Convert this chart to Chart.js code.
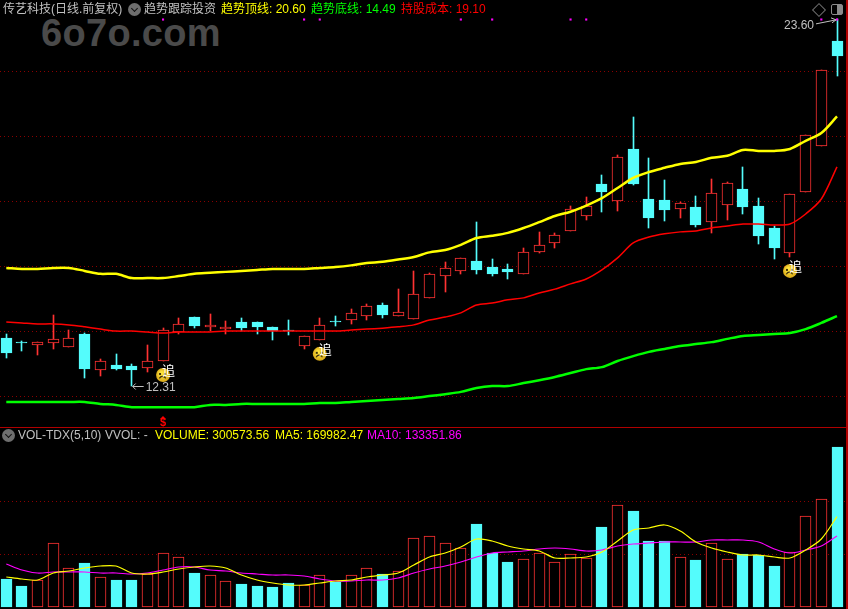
<!DOCTYPE html>
<html>
<head>
<meta charset="utf-8">
<title>传艺科技</title>
<script src="https://cdn.jsdelivr.net/npm/chart.js@4/dist/chart.umd.min.js"></script>
<style>
    html, body { margin: 0; padding: 0; background: #000; overflow: hidden; }
    #page { position: relative; width: 848px; height: 609px; background: #000; overflow: hidden; font-family: "Liberation Sans", "Noto Sans CJK SC", sans-serif; }
    #priceBox { position: absolute; left: 0; top: 0; width: 848px; height: 427px; }
    #volBox { position: absolute; left: 0; top: 428px; width: 848px; height: 181px; }
    canvas { display: block; }
    .label { position: absolute; font-size: 12px; line-height: 14px; white-space: nowrap; }
    .grey { color: #c0c0c0; }
    .yellow { color: #ffff00; }
    .green { color: #00ff00; }
    .red { color: #ff0000; }
    .pink { color: #ff00ff; }
    #logo { position: absolute; left: 41px; top: 11px; font: bold 38px/44px "Liberation Sans", sans-serif; color: #4a4a4a; letter-spacing: 0.3px; }
    .rule { position: absolute; background: #b00000; }
    .round { position: absolute; width: 13px; height: 13px; border-radius: 50%; background: #6e6e6e; }
    .round::after { content: ''; position: absolute; left: 3.5px; top: 3px; width: 4px; height: 4px; border-right: 1.5px solid #111; border-bottom: 1.5px solid #111; transform: rotate(45deg); }
    #diamond { position: absolute; left: 814px; top: 5px; width: 8px; height: 8px; border: 1px solid #707070; transform: rotate(45deg); }
    #panelBtn { position: absolute; left: 831px; top: 4px; width: 10px; height: 9px; border: 1px solid #8a8a8a; border-radius: 2px; }
    #panelBtn::after { content: ''; position: absolute; right: 0; top: 0; width: 5px; height: 9px; background: #8a8a8a; }
</style>
</head>
<body>
<div id="page">
    <div id="logo">6o7o.com</div>
    <div id="priceBox"><canvas id="priceChart" width="848" height="427"></canvas></div>
    <div id="volBox"><canvas id="volChart" width="848" height="181"></canvas></div>

    <div class="rule" style="left:0;top:427px;width:848px;height:1px"></div>
    <div class="rule" style="left:846px;top:0;width:2px;height:609px"></div>

    <div class="label grey" style="left:3px;top:2px">传艺科技(日线.前复权)</div>
    <div class="round" style="left:128px;top:3px"></div>
    <div class="label grey" style="left:144px;top:2px">趋势跟踪投资</div>
    <div class="label yellow" style="left:221px;top:2px">趋势顶线: 20.60</div>
    <div class="label green" style="left:311px;top:2px">趋势底线: 14.49</div>
    <div class="label red" style="left:401px;top:2px">持股成本: 19.10</div>
    <div id="diamond"></div>
    <div id="panelBtn"></div>

    <div class="round" style="left:2px;top:429px"></div>
    <div class="label grey" style="left:18px;top:428px">VOL-TDX(5,10)</div>
    <div class="label grey" style="left:105px;top:428px">VVOL: -</div>
    <div class="label yellow" style="left:155px;top:428px">VOLUME: 300573.56</div>
    <div class="label yellow" style="left:275px;top:428px">MA5: 169982.47</div>
    <div class="label pink" style="left:367px;top:428px">MA10: 133351.86</div>
</div>

<script>
const opens = [13.79, 13.66, 13.57, 13.63, 13.51, 13.91, 12.80, 12.96, 12.93, 12.86, 13.08, 13.97, 14.43, 14.13, 14.06, 14.28, 14.28, 14.13, 14.03, 13.54, 13.73, 14.31, 14.34, 14.46, 14.80, 14.46, 14.37, 15.02, 15.69, 15.85, 16.16, 15.97, 15.91, 15.76, 16.43, 16.71, 17.08, 17.54, 18.52, 18.00, 19.60, 18.06, 18.03, 17.75, 17.82, 17.35, 17.88, 18.37, 17.85, 17.17, 16.40, 18.28, 19.69, 22.92];
const closes = [13.33, 13.63, 13.66, 13.76, 13.79, 12.83, 13.08, 12.83, 12.80, 13.08, 14.03, 14.22, 14.16, 14.19, 14.13, 14.09, 14.13, 14.00, 14.00, 13.85, 14.19, 14.28, 14.56, 14.77, 14.49, 14.59, 15.14, 15.76, 15.94, 16.25, 15.88, 15.76, 15.82, 16.43, 16.65, 16.96, 17.75, 17.85, 18.28, 19.35, 18.52, 17.48, 17.72, 17.94, 17.26, 18.25, 18.55, 17.82, 16.93, 16.55, 18.22, 20.03, 22.03, 22.46];
const highs = [13.91, 13.70, 13.66, 14.49, 14.03, 13.94, 13.14, 13.30, 12.99, 13.57, 14.09, 14.40, 14.43, 14.53, 14.31, 14.40, 14.28, 14.13, 14.34, 13.85, 14.40, 14.46, 14.68, 14.83, 14.86, 15.29, 15.85, 15.79, 16.13, 16.25, 17.35, 16.22, 16.06, 16.55, 17.05, 17.02, 17.85, 18.12, 18.80, 19.42, 20.58, 19.33, 18.65, 17.97, 18.15, 18.68, 18.59, 19.05, 18.09, 17.23, 18.22, 20.03, 22.03, 23.60];
const lows = [13.17, 13.39, 13.26, 13.45, 13.51, 12.56, 12.62, 12.80, 12.31, 12.74, 13.08, 13.91, 14.09, 14.00, 13.91, 14.00, 13.91, 13.73, 13.88, 13.45, 13.73, 14.16, 14.22, 14.34, 14.40, 14.46, 14.37, 15.02, 15.20, 15.76, 15.76, 15.69, 15.60, 15.76, 16.40, 16.55, 17.08, 17.42, 17.66, 17.69, 18.49, 17.17, 17.39, 17.48, 17.20, 17.02, 17.42, 17.60, 16.68, 16.22, 16.28, 18.28, 19.69, 21.85];

const topLine = [15.94, 15.91, 15.91, 15.94, 15.94, 15.85, 15.76, 15.76, 15.63, 15.63, 15.63, 15.69, 15.76, 15.79, 15.82, 15.85, 15.88, 15.91, 15.91, 15.91, 15.94, 15.97, 16.02, 16.09, 16.13, 16.20, 16.28, 16.42, 16.49, 16.65, 16.86, 16.93, 17.02, 17.17, 17.35, 17.54, 17.67, 17.86, 18.09, 18.40, 18.71, 18.89, 19.02, 19.14, 19.20, 19.33, 19.39, 19.57, 19.54, 19.54, 19.60, 19.85, 20.09, 20.60];
const costLine = [14.28, 14.25, 14.22, 14.22, 14.19, 14.13, 14.06, 14.00, 14.00, 13.97, 13.94, 13.97, 13.97, 13.97, 14.00, 14.00, 14.00, 14.00, 14.00, 14.00, 14.00, 14.00, 14.03, 14.06, 14.09, 14.13, 14.19, 14.34, 14.43, 14.56, 14.80, 14.86, 14.96, 15.02, 15.17, 15.29, 15.45, 15.60, 15.88, 16.25, 16.71, 16.89, 16.99, 17.05, 17.08, 17.17, 17.23, 17.29, 17.29, 17.26, 17.29, 17.60, 18.06, 19.05];
const bottomLine = [11.82, 11.82, 11.82, 11.82, 11.82, 11.82, 11.76, 11.73, 11.66, 11.66, 11.66, 11.66, 11.66, 11.73, 11.73, 11.76, 11.76, 11.76, 11.76, 11.76, 11.79, 11.79, 11.82, 11.85, 11.88, 11.91, 11.94, 12.00, 12.06, 12.13, 12.25, 12.31, 12.31, 12.40, 12.49, 12.59, 12.71, 12.83, 12.89, 13.08, 13.23, 13.36, 13.45, 13.54, 13.60, 13.66, 13.76, 13.85, 13.88, 13.91, 13.94, 14.06, 14.25, 14.46];

const volumes = [52600, 39500, 50800, 120300, 73300, 82700, 56400, 50800, 50800, 62000, 101500, 94000, 63900, 60200, 48900, 43200, 39500, 37600, 45100, 41400, 60200, 47000, 60200, 73300, 62000, 67700, 129700, 133500, 120300, 110900, 156000, 101500, 84600, 90200, 101500, 84600, 99600, 92100, 150400, 191800, 180500, 124100, 124100, 94000, 88400, 120300, 90200, 99600, 97800, 77100, 103400, 171100, 203000, 300573.56];
const ma5 = [56400, 52640, 50760, 63920, 67680, 73320, 77080, 77080, 63920, 62040, 65800, 71440, 75200, 77080, 73320, 60160, 50760, 45120, 41360, 41360, 45120, 48880, 50760, 56400, 60160, 63920, 78960, 94000, 101520, 112800, 127840, 124080, 114680, 109040, 105280, 92120, 92120, 94000, 103400, 124080, 144760, 148520, 154160, 142880, 122200, 110920, 103400, 97760, 97760, 94000, 92120, 107160, 127840, 169982.47];
const ma10 = [80840, 69560, 63920, 65800, 65800, 65800, 63920, 63920, 62040, 63920, 69560, 75200, 75200, 69560, 67680, 63920, 62040, 60160, 60160, 58280, 52640, 48880, 48880, 50760, 50760, 54520, 63920, 71440, 77080, 84600, 94000, 101520, 103400, 105280, 109040, 110920, 109040, 105280, 107160, 114680, 118440, 120320, 122200, 122200, 122200, 125960, 125960, 125960, 122200, 109040, 101520, 107160, 114680, 133351.86];

const days = opens.map((_, i) => i);
const priceGrid = [12, 14, 16, 18, 20, 22];
const volGrid = [100000, 200000];

// days flagged by the indicator, magenta dots along the top
const signalDays = [10, 19, 20, 29, 31, 36, 37, 52, 53];
const signalLevel = 23.58;
// "追" smileys: day and price level
const chaseDays = [10, 20, 50];
const chaseLevels = [12.65, 13.30, 15.85];

const UP = '#ff3232';
const DOWN = '#54fcfc';
const isUp = days.map(i => closes[i] >= opens[i]);
const barColors = isUp.map(u => u ? UP : DOWN);
const barFills = isUp.map(u => u ? '#000000' : DOWN);

Chart.defaults.animation = false;
Chart.defaults.events = [];
Chart.defaults.plugins.legend.display = false;
Chart.defaults.plugins.tooltip.enabled = false;

// dotted lines run the full canvas width, so they are drawn here and not by the axis
const dottedGrid = {
    id: 'dottedGrid',
    beforeDatasetsDraw(chart, args, opts) {
        const ctx = chart.ctx;
        ctx.save();
        ctx.strokeStyle = '#8a0000';
        ctx.lineWidth = 1;
        ctx.setLineDash([1, 3]);
        opts.values.forEach(v => {
            const y = Math.round(chart.scales.y.getPixelForValue(v)) + 0.5;
            ctx.beginPath();
            ctx.moveTo(0, y);
            ctx.lineTo(845, y);
            ctx.stroke();
        });
        ctx.restore();
    }
};

// keep candle edges on whole pixels, blurred 1px outlines look too dim
const snapBars = {
    id: 'snapBars',
    beforeDatasetsDraw(chart) {
        chart.data.datasets.forEach((ds, di) => {
            const meta = chart.getDatasetMeta(di);
            if (meta.type !== 'bar') return;
            meta.data.forEach(el => {
                el.x = Math.floor(el.x) + 0.5;
                let top = Math.round(Math.min(el.y, el.base));
                let bottom = Math.round(Math.max(el.y, el.base));
                if (bottom - top < 1) bottom = top + 1;
                el.y = top;
                el.base = bottom;
                el.height = bottom - top;
            });
        });
    }
};

function drawSmiley(ctx, x, y) {
    const grad = ctx.createRadialGradient(x - 2, y - 2, 1, x, y, 7);
    grad.addColorStop(0, '#ffe640');
    grad.addColorStop(1, '#d8a818');
    ctx.fillStyle = grad;
    ctx.beginPath();
    ctx.arc(x, y, 7, 0, Math.PI * 2);
    ctx.fill();
    ctx.fillStyle = '#40300a';
    ctx.fillRect(x - 4, y - 2, 2, 2);
    ctx.fillRect(x + 1, y - 2, 2, 2);
    ctx.strokeStyle = '#40300a';
    ctx.lineWidth = 1.2;
    ctx.beginPath();
    ctx.arc(x - 0.5, y + 5, 3.5, Math.PI * 1.15, Math.PI * 1.85);
    ctx.stroke();
}

const priceMarks = {
    id: 'priceMarks',
    afterDatasetsDraw(chart) {
        const ctx = chart.ctx;
        const xs = chart.scales.x;
        const ys = chart.scales.y;
        ctx.save();

        chaseDays.forEach((d, i) => {
            const x = xs.getPixelForValue(d);
            const y = ys.getPixelForValue(chaseLevels[i]);
            drawSmiley(ctx, x, y);
            ctx.fillStyle = '#ffffff';
            ctx.font = '13px "Noto Sans CJK SC"';
            ctx.textAlign = 'center';
            ctx.textBaseline = 'middle';
            ctx.fillText('追', x + 5.5, y - 5);
        });

        // low and high labels with their arrows
        ctx.strokeStyle = '#c0c0c0';
        ctx.fillStyle = '#c0c0c0';
        ctx.lineWidth = 1;
        ctx.font = '12px "Liberation Sans"';
        ctx.textBaseline = 'middle';
        ctx.textAlign = 'left';

        const lowX = xs.getPixelForValue(8);
        const lowY = Math.round(ys.getPixelForValue(12.31)) + 0.5;
        ctx.beginPath();
        ctx.moveTo(lowX + 12, lowY);
        ctx.lineTo(lowX + 1, lowY);
        ctx.moveTo(lowX + 4, lowY - 3);
        ctx.lineTo(lowX + 1, lowY);
        ctx.lineTo(lowX + 4, lowY + 3);
        ctx.stroke();
        ctx.fillText('12.31', lowX + 14, lowY + 1);

        const highX = xs.getPixelForValue(53);
        const highY = ys.getPixelForValue(23.60);
        ctx.textAlign = 'right';
        ctx.fillText('23.60', highX - 23, highY + 7);
        ctx.beginPath();
        ctx.moveTo(highX - 21, highY + 5);
        ctx.lineTo(highX - 1, highY + 1);
        ctx.moveTo(highX - 6, highY - 1);
        ctx.lineTo(highX - 1, highY + 1);
        ctx.lineTo(highX - 5, highY + 4);
        ctx.stroke();

        // sell marker below the bottom line
        const sx = Math.round(xs.getPixelForValue(10));
        ctx.fillStyle = '#ff0000';
        ctx.beginPath();
        ctx.moveTo(sx - 3, 419);
        ctx.lineTo(sx, 416);
        ctx.lineTo(sx + 3, 419);
        ctx.fill();
        ctx.font = 'bold 11px "Liberation Sans"';
        ctx.textAlign = 'center';
        ctx.fillText('$', sx, 423);
        ctx.restore();
    }
};

const priceChart = new Chart(document.getElementById('priceChart'), {
    type: 'bar',
    data: {
        labels: days,
        datasets: [
            {
                data: days.map(i => [lows[i], highs[i]]),
                backgroundColor: barColors,
                barThickness: 1, grouped: false, clip: false, order: 3
            },
            {
                data: days.map(i => [opens[i], closes[i]]),
                backgroundColor: barFills,
                borderColor: barColors,
                borderWidth: 1, borderSkipped: false,
                barThickness: 11, grouped: false, clip: false, order: 2
            },
            {
                type: 'line', data: costLine, borderColor: '#ff0000',
                borderWidth: 1.5, pointRadius: 0, tension: 0.3, clip: false, order: 1
            },
            {
                type: 'line', data: topLine, borderColor: '#ffff00',
                borderWidth: 2.5, pointRadius: 0, tension: 0.3, clip: false, order: 1
            },
            {
                type: 'line', data: bottomLine, borderColor: '#00ff00',
                borderWidth: 2.5, pointRadius: 0, tension: 0.3, clip: false, order: 1
            },
            {
                type: 'line', data: days.map(i => signalDays.includes(i) ? signalLevel : null),
                showLine: false, pointStyle: 'rect', pointRadius: 1.5,
                backgroundColor: '#ff00ff', borderColor: '#ff00ff', borderWidth: 0, clip: false, order: 0
            }
        ]
    },
    options: {
        responsive: false,
        layout: { autoPadding: false, padding: { left: 6.3, right: 11, top: 0, bottom: 0 } },
        scales: {
            x: { type: 'category', offset: false, display: false },
            y: { min: 11.05, max: 24.18, display: false }
        },
        plugins: { dottedGrid: { values: priceGrid } }
    },
    plugins: [dottedGrid, snapBars, priceMarks]
});

const volChart = new Chart(document.getElementById('volChart'), {
    type: 'bar',
    data: {
        labels: days,
        datasets: [
            {
                data: volumes,
                backgroundColor: barFills,
                borderColor: barColors,
                borderWidth: 1, borderSkipped: false,
                barThickness: 11, grouped: false, clip: false, order: 2
            },
            {
                type: 'line', data: ma5, borderColor: '#ffff00',
                borderWidth: 1.2, pointRadius: 0, tension: 0.3, clip: false, order: 1
            },
            {
                type: 'line', data: ma10, borderColor: '#ff00ff',
                borderWidth: 1.2, pointRadius: 0, tension: 0.3, clip: false, order: 1
            }
        ]
    },
    options: {
        responsive: false,
        layout: { autoPadding: false, padding: { left: 6.3, right: 11, top: 0, bottom: 0 } },
        scales: {
            x: { type: 'category', offset: false, display: false },
            y: { min: -3760, max: 336520, display: false }
        },
        plugins: { dottedGrid: { values: volGrid } }
    },
    plugins: [dottedGrid, snapBars]
});
</script>
</body>
</html>
